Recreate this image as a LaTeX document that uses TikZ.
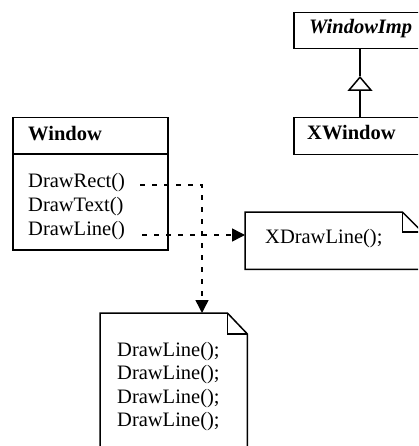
\documentclass[tikz,border=0pt]{standalone}
\usepackage{fontspec}
\setmainfont{Liberation Serif}
\usetikzlibrary{arrows.meta}
\begin{document}
\begin{tikzpicture}[x=1pt,y=-1pt,
  box/.style={draw,line width=1.5pt,inner sep=0pt,anchor=north west},
  notebox/.style={inner sep=0pt,anchor=north west},
  txt/.style={anchor=base west,inner sep=0pt,font=\fontsize{20.5}{23.3}\selectfont},
  dep/.style={line width=1.5pt,dash pattern=on 5pt off 7pt,-{Triangle[length=13pt,width=13pt]}},
  outline/.style={line width=1.5pt,line join=miter}]
\useasboundingbox (0,0) rectangle (418,446);
\clip (0,0) rectangle (418,446);
% WindowImp
\node[box,minimum width=150pt,minimum height=36pt] (winimp) at (293,12) {};
\node[txt,font=\fontsize{20.5}{23.3}\selectfont\bfseries\itshape] (winimpT) at (309,34) {WindowImp};
% XWindow
\node[box,minimum width=150pt,minimum height=37pt] (xwin) at (293,117) {};
\node[txt,font=\fontsize{20.5}{23.3}\selectfont\bfseries] (xwinT) at (307,140) {XWindow};
% generalization
\coordinate (apex) at (360,76);
\draw[line width=1.5pt,-{Triangle[open,length=15pt,width=25pt]}] (apex |- xwin.north) -- (apex);
\draw[line width=1.5pt] (apex) -- (apex |- winimp.south);
% Window class
\node[box,minimum width=155pt,minimum height=132pt] (window) at (12,117) {};
\draw[line width=1.5pt] ([yshift=-37pt]window.north west) -- ([yshift=-37pt]window.north east);
\node[txt,font=\fontsize{20.5}{23.3}\selectfont\bfseries] (windowT) at (28,141) {Window};
\node[txt] (m1) at (28,187) {DrawRect()};
\node[txt] (m2) at (28,211) {DrawText()};
\node[txt] (m3) at (28,235) {DrawLine()};
% XDrawLine note
\node[notebox,minimum width=177pt,minimum height=57pt] (xnote) at (245,212) {};
\draw[outline] (xnote.north west) -- ([xshift=-20pt]xnote.north east) -- ([yshift=-20pt]xnote.north east) -- (xnote.south east) -- (xnote.south west) -- cycle;
\draw[outline] ([xshift=-20pt]xnote.north east) |- ([yshift=-20pt]xnote.north east);
\node[txt] (xnoteT) at (265,243) {XDrawLine();};
% lower note
\node[notebox,minimum width=147pt,minimum height=160pt] (lnote) at (100,313) {};
\draw[outline] (lnote.north west) -- ([xshift=-20pt]lnote.north east) -- ([yshift=-21pt]lnote.north east) -- (lnote.south east) -- (lnote.south west) -- cycle;
\draw[outline] ([xshift=-20pt]lnote.north east) |- ([yshift=-21pt]lnote.north east);
\node[txt] (l1) at (117,356) {DrawLine();};
\node[txt] (l2) at (117,379.5) {DrawLine();};
\node[txt] (l3) at (117,403) {DrawLine();};
\node[txt] (l4) at (117,426.5) {DrawLine();};
% dependencies
\coordinate (dr) at (140,185);
\coordinate (turn) at (202,185);
\coordinate (dl) at (142,235);
\draw[dep] (dr) -- (turn) -- (turn |- lnote.north);
\draw[dep] (dl) -- (dl -| xnote.west);
\end{tikzpicture}
\end{document}
